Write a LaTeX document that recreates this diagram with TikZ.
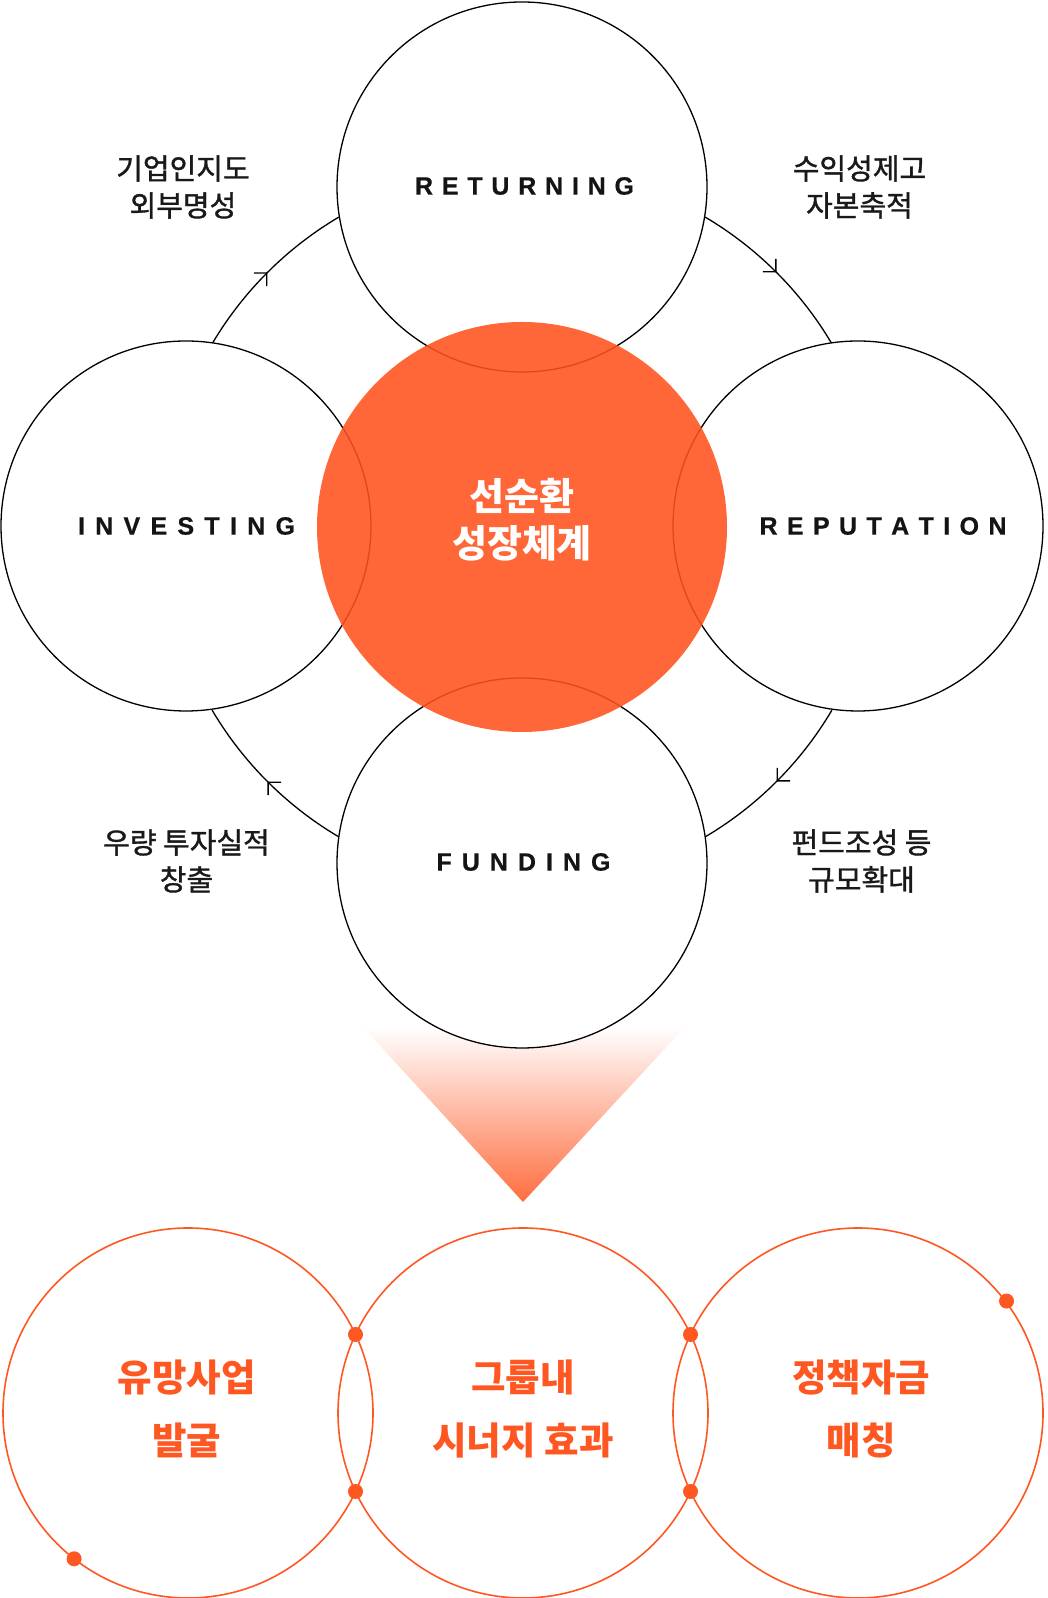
\documentclass[tikz,border=0pt]{standalone}
\usepackage{fontspec}
\setmainfont{Liberation Sans}
\newfontfamily\latb[FakeBold=0.6]{Liberation Sans Bold}
\newfontfamily\kr{Noto Sans CJK KR}
\newfontfamily\krm[FakeBold=1.2]{Noto Sans CJK KR}
\usetikzlibrary{arrows.meta,decorations.markings,calc}
\definecolor{ctrorange}{HTML}{FF511D}
\definecolor{botorange}{HTML}{FF5722}
\definecolor{triorange}{HTML}{FF6D3F}
\newcommand\spaced[2]{\hbox to #1{#2}}
\begin{document}
\begin{tikzpicture}[x=1pt,y=1pt,
  bigcirc/.style={circle, draw=black, line width=1.3pt, fill=white, minimum size=370pt, inner sep=0pt},
  botcirc/.style={circle, draw=botorange, line width=1.6pt, minimum size=370pt, inner sep=0pt},
  ringline/.style={line width=1.3pt, postaction={decorate},
    decoration={markings, mark=at position 0.5 with {\arrow{Straight Barb[angle=90:13pt,line width=1.3pt]}}}},
  latinlbl/.style={font=\latb\fontsize{25}{28}\selectfont, text=black!92, inner sep=0pt},
  krlbl/.style={font=\krm\fontsize{29}{37}\selectfont, text=black!90, align=center, inner sep=0pt},
  ctrtxt/.style={font=\kr\bfseries\fontsize{38}{47}\selectfont, text=white, align=center, inner sep=0pt},
  bottxt/.style={font=\kr\bfseries\fontsize{37.5}{63}\selectfont, text=botorange, align=center, inner sep=0pt},
  dot/.style={circle, fill=botorange, minimum size=15pt, inner sep=0pt}]
\useasboundingbox (0,0) rectangle (1048,1598);
\fill[white] (0,0) rectangle (1048,1598);
\coordinate (C) at (522,1071);
% cycle arcs (clockwise: investing -> returning -> reputation -> funding)
\foreach \a in {149.4,59.4,-30.6,-120.6}
  \draw[ringline] ($(C)+(\a:360)$) arc[start angle=\a, end angle=\a-28.8, radius=360];
% gradient triangle
\shade[top color=white, bottom color=triorange] (363,571) -- (685,571) -- (523,396) -- cycle;
% four circles
\node[bigcirc] (ret) at (522,1411) {};
\node[bigcirc] (inv) at (186,1072) {};
\node[bigcirc] (rep) at (858,1072) {};
\node[bigcirc] (fun) at (522,735) {};
% central orange circle
\fill[ctrorange, fill opacity=0.88] (C) circle (205);
\node[ctrtxt] (ctr) at (522,1078) {선순환\\성장체계};
% circle labels
\node[latinlbl] (tret) at (524.5,1412) {\spaced{219pt}{R\hfil E\hfil T\hfil U\hfil R\hfil N\hfil I\hfil N\hfil G}};
\node[latinlbl] (tinv) at (186.5,1072) {\spaced{217pt}{I\hfil N\hfil V\hfil E\hfil S\hfil T\hfil I\hfil N\hfil G}};
\node[latinlbl] (trep) at (883,1072) {\spaced{247pt}{R\hfil E\hfil P\hfil U\hfil T\hfil A\hfil T\hfil I\hfil O\hfil N}};
\node[latinlbl] (tfun) at (523.5,736) {\spaced{174pt}{F\hfil U\hfil N\hfil D\hfil I\hfil N\hfil G}};
% arc labels
\node[krlbl] (l1) at (183,1411) {기업인지도\\외부명성};
\node[krlbl] (l2) at (859.5,1411) {수익성제고\\자본축적};
\node[krlbl] (l3) at (186.5,737) {우량 투자실적\\창출};
\node[krlbl] (l4) at (861.5,737) {펀드조성 등\\규모확대};
% bottom circles
\node[botcirc] (b1) at (188,185) {};
\node[botcirc] (b2) at (523,185) {};
\node[botcirc] (b3) at (858,185) {};
\node[dot] (d1) at (355.5,263.5) {};
\node[dot] (d2) at (355.5,106.5) {};
\node[dot] (d3) at (690.5,263.5) {};
\node[dot] (d4) at (690.5,106.5) {};
\node[dot] (d5) at ($(b3.center)+(37:186)$) {};
\node[dot] (d6) at ($(b1.center)+(232:185)$) {};
\node[bottxt] (bt1) at (186.5,189) {유망사업\\발굴};
\node[bottxt] (bt2) at (523,189) {그룹내\\시너지 효과};
\node[bottxt] (bt3) at (861,189) {정책자금\\매칭};
\end{tikzpicture}
\end{document}
